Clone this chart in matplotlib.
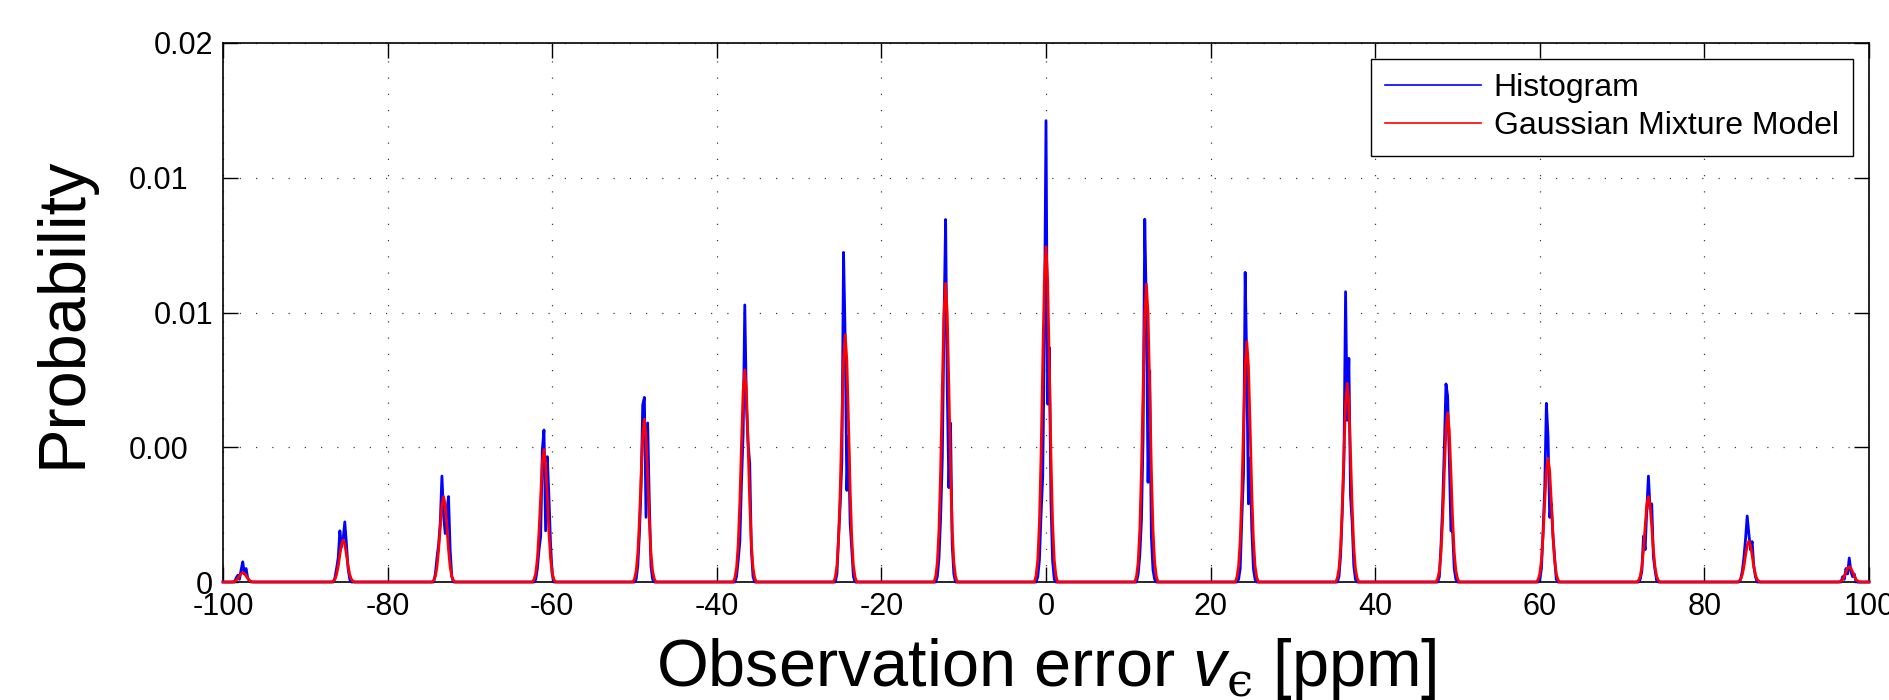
import matplotlib
matplotlib.use('Agg')
import matplotlib.pyplot as plt
import matplotlib.transforms as mtransforms
from matplotlib.lines import Line2D

plt.rcParams['font.family'] = ['Liberation Sans', 'DejaVu Sans']
plt.rcParams['mathtext.fontset'] = 'custom'
plt.rcParams['mathtext.rm'] = 'Liberation Sans'
plt.rcParams['mathtext.it'] = 'Liberation Sans:italic'
plt.rcParams['mathtext.sf'] = 'DejaVu Serif'
plt.rcParams['mathtext.fallback'] = 'stix'
plt.rcParams['axes.unicode_minus'] = False

# %% data (probabilities in units of 1e-3)
centers = [-97.6, -85.4, -73.2, -61.0, -48.8, -36.6, -24.4, -12.2, 0.0,
           12.2, 24.4, 36.6, 48.8, 61.0, 73.2, 85.4, 97.6]

# histogram bins relative to each cluster centre
hist_offsets = [-1.2, -1.0, -0.8, -0.6, -0.4, -0.2, 0.0, 0.2, 0.4, 0.6, 0.8, 1.0, 1.2]
hist_values = [
    [0, 0, 0.15, 0.25, 0.1, 0.45, 0.75, 0.3, 0.5, 0.15, 0.05, 0, 0],
    [0, 0.15, 0.5, 0.9, 1.9, 1.3, 1.6, 2.23, 1.4, 0.5, 0.1, 0, 0],
    [0, 0.3, 0.9, 1.4, 2.2, 3.93, 2.5, 1.8, 2.6, 3.17, 1.2, 0.2, 0],
    [0, 0.1, 0.5, 1.2, 1.7, 4.9, 5.64, 1.9, 4.65, 3.2, 1.4, 0.3, 0],
    [0, 0.1, 0.6, 1.8, 3.5, 6.57, 6.85, 2.4, 5.9, 3.0, 0.6, 0.1, 0],
    [0, 0.2, 0.8, 1.5, 3.7, 5.5, 10.28, 6.57, 5.15, 4.4, 1.2, 0.2, 0],
    [0, 0.3, 1.7, 2.9, 4.5, 12.23, 9.0, 3.4, 5.4, 2.2, 1.2, 0.2, 0],
    [0, 0.2, 0.9, 2.4, 4.6, 9.5, 13.45, 7.2, 3.5, 5.9, 1.4, 0.3, 0],
    [0, 0.2, 0.8, 2.5, 3.9, 9.0, 17.12, 6.6, 8.7, 3.0, 0.8, 0.1, 0],
    [0, 0.3, 1.0, 2.3, 5.4, 13.46, 10.0, 3.7, 7.84, 1.7, 0.45, 0.1, 0],
    [0, 0.1, 0.5, 2.4, 4.0, 11.49, 8.0, 2.9, 4.6, 2.0, 0.5, 0.1, 0],
    [0, 0.2, 1.0, 2.6, 4.5, 10.77, 6.0, 8.3, 3.2, 2.2, 0.6, 0.1, 0],
    [0, 0.2, 1.4, 2.9, 5.0, 7.35, 6.9, 4.65, 1.9, 1.9, 0.5, 0.1, 0],
    [0, 0.1, 0.5, 1.9, 3.5, 6.63, 5.4, 2.4, 2.9, 1.7, 0.9, 0.1, 0],
    [0, 0.1, 0.4, 1.7, 1.2, 2.7, 3.93, 2.7, 2.9, 0.94, 0.45, 0.05, 0],
    [0, 0.1, 0.4, 0.9, 1.6, 2.45, 1.8, 1.2, 1.5, 0.6, 0.2, 0, 0],
    [0, 0, 0.2, 0.1, 0.5, 0.3, 0.89, 0.4, 0.2, 0.3, 0.05, 0, 0],
]

# gaussian mixture model curve, sampled around each cluster centre
gmm_offsets = [-1.4, -1.2, -1.0, -0.8, -0.6, -0.4, -0.2, 0.0, 0.2, 0.4, 0.6, 0.8, 1.0, 1.2, 1.4]
gmm_values = [
    [0, 0.01, 0.02, 0.06, 0.13, 0.23, 0.31, 0.35, 0.31, 0.23, 0.13, 0.06, 0.02, 0.01, 0],
    [0, 0.03, 0.10, 0.28, 0.59, 1.01, 1.40, 1.56, 1.40, 1.01, 0.59, 0.28, 0.10, 0.03, 0],
    [0, 0.06, 0.21, 0.56, 1.20, 2.06, 2.85, 3.17, 2.85, 2.06, 1.20, 0.56, 0.21, 0.06, 0],
    [0, 0.10, 0.33, 0.87, 1.86, 3.19, 4.42, 4.92, 4.42, 3.19, 1.86, 0.87, 0.33, 0.10, 0],
    [0, 0.12, 0.40, 1.07, 2.28, 3.92, 5.42, 6.04, 5.42, 3.92, 2.28, 1.07, 0.40, 0.12, 0],
    [0, 0.16, 0.53, 1.39, 2.97, 5.11, 7.07, 7.87, 7.07, 5.11, 2.97, 1.39, 0.53, 0.16, 0],
    [0, 0.18, 0.61, 1.62, 3.47, 5.95, 8.23, 9.17, 8.23, 5.95, 3.47, 1.62, 0.61, 0.18, 0],
    [0, 0.22, 0.74, 1.96, 4.19, 7.19, 9.95, 11.08, 9.95, 7.19, 4.19, 1.96, 0.74, 0.22, 0],
    [0, 0.25, 0.83, 2.20, 4.70, 8.07, 11.17, 12.44, 11.17, 8.07, 4.70, 2.20, 0.83, 0.25, 0],
    [0, 0.22, 0.74, 1.96, 4.18, 7.17, 9.92, 11.05, 9.92, 7.17, 4.18, 1.96, 0.74, 0.22, 0],
    [0, 0.18, 0.60, 1.58, 3.37, 5.79, 8.01, 8.92, 8.01, 5.79, 3.37, 1.58, 0.60, 0.18, 0],
    [0, 0.15, 0.49, 1.30, 2.79, 4.78, 6.62, 7.37, 6.62, 4.78, 2.79, 1.30, 0.49, 0.15, 0],
    [0, 0.13, 0.42, 1.11, 2.37, 4.08, 5.64, 6.28, 5.64, 4.08, 2.37, 1.11, 0.42, 0.13, 0],
    [0, 0.09, 0.31, 0.81, 1.74, 2.98, 4.12, 4.59, 4.12, 2.98, 1.74, 0.81, 0.31, 0.09, 0],
    [0, 0.06, 0.21, 0.56, 1.20, 2.06, 2.85, 3.17, 2.85, 2.06, 1.20, 0.56, 0.21, 0.06, 0],
    [0, 0.03, 0.10, 0.27, 0.57, 0.99, 1.36, 1.52, 1.36, 0.99, 0.57, 0.27, 0.10, 0.03, 0],
    [0, 0.01, 0.04, 0.10, 0.22, 0.37, 0.51, 0.57, 0.51, 0.37, 0.22, 0.10, 0.04, 0.01, 0],
]

x_ticks = [-100, -80, -60, -40, -20, 0, 20, 40, 60, 80, 100]
y_ticks = [0, 0.005, 0.01, 0.015, 0.02]
y_ticklabels = ['0', '0.00', '0.01', '0.01', '0.02']

# %% build the series
hist_x = [-100.0]
hist_y = [0.0]
for c, vals in zip(centers, hist_values):
    hist_x += [c + o for o in hist_offsets]
    hist_y += [v * 1e-3 for v in vals]
hist_x.append(100.0)
hist_y.append(0.0)

gmm_x = [-100.0]
gmm_y = [0.0]
for c, vals in zip(centers, gmm_values):
    gmm_x += [c + o for o in gmm_offsets]
    gmm_y += [v * 1e-3 for v in vals]
gmm_x.append(100.0)
gmm_y.append(0.0)

# %% plot
fig, ax = plt.subplots(figsize=(18.9, 7), dpi=100)
fig.subplots_adjust(left=223 / 1890, right=1869 / 1890, top=1 - 43 / 700, bottom=1 - 582 / 700)

ax.plot(hist_x, hist_y, color='#0000ff', lw=2.0, clip_on=False, zorder=3)
ax.plot(gmm_x, gmm_y, color='#ff0000', lw=2.0, clip_on=False, zorder=4)

ax.set_xlim(-100, 100)
ax.set_ylim(0, 0.02)
ax.set_xticks(x_ticks)
ax.set_yticks(y_ticks)
ax.set_yticklabels(y_ticklabels)

ax.grid(True, linestyle=(0, (1, 12)), linewidth=0.9, color='0.25')
ax.set_axisbelow(True)
ax.tick_params(direction='in', length=11, width=1.0, top=True, right=True,
               labelsize=22, pad=7)
for s in ax.spines.values():
    s.set_linewidth(1.2)

# MATLAB cut the last digit of 0.015 / 0.005, keep their shifted placement
for i in (1, 3):
    lab = ax.get_yticklabels()[i]
    lab.set_transform(lab.get_transform() +
                      mtransforms.ScaledTranslation(-0.25, 0, fig.dpi_scale_trans))

ax.set_xlabel('Observation error $v_{\\mathsf{\u03f5}}$ [ppm]', fontsize=48)
ax.xaxis.set_label_coords(0.5, -0.1)
ax.set_ylabel('Probability', fontsize=48)
ax.yaxis.set_label_coords(-0.078, 0.5)

handles = [Line2D([], [], color='#0000ff', lw=1.2),
           Line2D([], [], color='#ff0000', lw=1.2)]
leg = ax.legend(handles, ['Histogram', 'Gaussian Mixture Model'], loc='upper right',
                fontsize=23, fancybox=False, framealpha=1, edgecolor='black',
                handlelength=3.0, handletextpad=0.4, labelspacing=0.25,
                borderpad=0.45, borderaxespad=0.5)
leg.get_frame().set_linewidth(1.0)

fig.savefig('out.png', dpi=100)
